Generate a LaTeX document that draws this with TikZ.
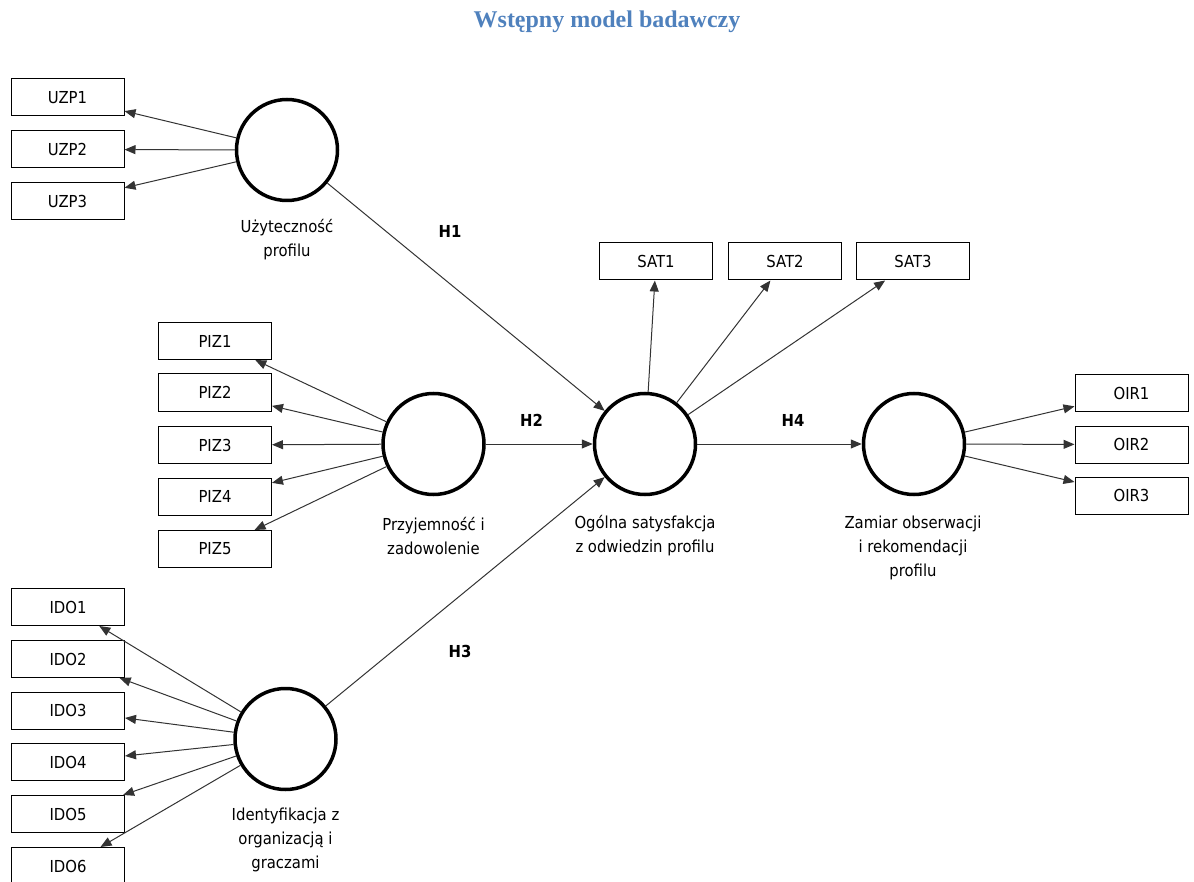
\documentclass[tikz,border=0pt]{standalone}
\usepackage{fontspec}
\setmainfont{DejaVu Sans Condensed}
\newfontfamily\titlefont{Liberation Serif}
\usetikzlibrary{arrows.meta}
\definecolor{titleblue}{HTML}{4F81BD}
\begin{document}
\begin{tikzpicture}[x=1pt,y=-1pt,
  ind/.style={draw=black, line width=1pt, minimum width=113pt, minimum height=37pt, inner sep=0pt, font=\fontsize{16.5}{18}\selectfont},
  lat/.style={circle, draw=black, line width=3.5pt, minimum size=101pt, inner sep=0pt},
  lab/.style={align=center, font=\fontsize{16.5}{24}\selectfont},
  con/.style={-{Triangle[length=11pt,width=9pt]}, line width=1pt, draw=black!80},
  hyp/.style={font=\bfseries\fontsize{16.5}{18}\selectfont}]
\useasboundingbox (0,0) rectangle (1194,882);
\node[font=\titlefont\bfseries\fontsize{24}{28}\selectfont, text=titleblue] (title) at (607,22) {Wstępny model badawczy};

% latent variables
\node[lat] (U) at (287,150) {};
\node[lat] (P) at (433.5,444) {};
\node[lat] (I) at (285.5,739) {};
\node[lat] (S) at (645,444) {};
\node[lat] (O) at (914,444) {};

\node[lab] (Ul) at (287,240) {Użyteczność\\profilu};
\node[lab] (Pl) at (433.5,536) {Przyjemność i\\zadowolenie};
\node[lab] (Sl) at (645,536) {Ogólna satysfakcja\\z odwiedzin profilu};
\node[lab] (Ol) at (913,548) {Zamiar obserwacji\\i rekomendacji\\profilu};
\node[lab] (Il) at (285.5,840) {Identyfikacja z\\organizacją i\\graczami};

% indicators
\node[ind] (UZP1) at (67.5,97.5) {UZP1};
\node[ind] (UZP2) at (67.5,149.5) {UZP2};
\node[ind] (UZP3) at (67.5,201) {UZP3};

\node[ind] (PIZ1) at (215,341) {PIZ1};
\node[ind] (PIZ2) at (215,392.5) {PIZ2};
\node[ind] (PIZ3) at (215,445) {PIZ3};
\node[ind] (PIZ4) at (215,496.5) {PIZ4};
\node[ind] (PIZ5) at (215,549) {PIZ5};

\node[ind] (IDO1) at (68,607) {IDO1};
\node[ind] (IDO2) at (68,659) {IDO2};
\node[ind] (IDO3) at (68,710.5) {IDO3};
\node[ind] (IDO4) at (68,762) {IDO4};
\node[ind] (IDO5) at (68,814) {IDO5};
\node[ind] (IDO6) at (68,866) {IDO6};

\node[ind] (SAT1) at (656,261.5) {SAT1};
\node[ind] (SAT2) at (785,261.5) {SAT2};
\node[ind] (SAT3) at (913,261.5) {SAT3};

\node[ind] (OIR1) at (1131.5,393) {OIR1};
\node[ind] (OIR2) at (1131.5,444.5) {OIR2};
\node[ind] (OIR3) at (1131.5,495.5) {OIR3};

% measurement arrows
\foreach \k in {1,2,3} \draw[con] (U) -- (UZP\k);
\foreach \k in {1,...,5} \draw[con] (P) -- (PIZ\k);
\foreach \k in {1,...,6} \draw[con] (I) -- (IDO\k);
\foreach \k in {1,2,3} \draw[con] (S) -- (SAT\k);
\foreach \k in {1,2,3} \draw[con] (O) -- (OIR\k);

% structural arrows
\draw[con] (U) -- (S);
\draw[con] (P) -- (S);
\draw[con] (I) -- (S);
\draw[con] (S) -- (O);

\node[hyp] (H1) at (450,231) {H1};
\node[hyp] (H2) at (531.5,420) {H2};
\node[hyp] (H3) at (460,651) {H3};
\node[hyp] (H4) at (793,420) {H4};
\end{tikzpicture}
\end{document}
